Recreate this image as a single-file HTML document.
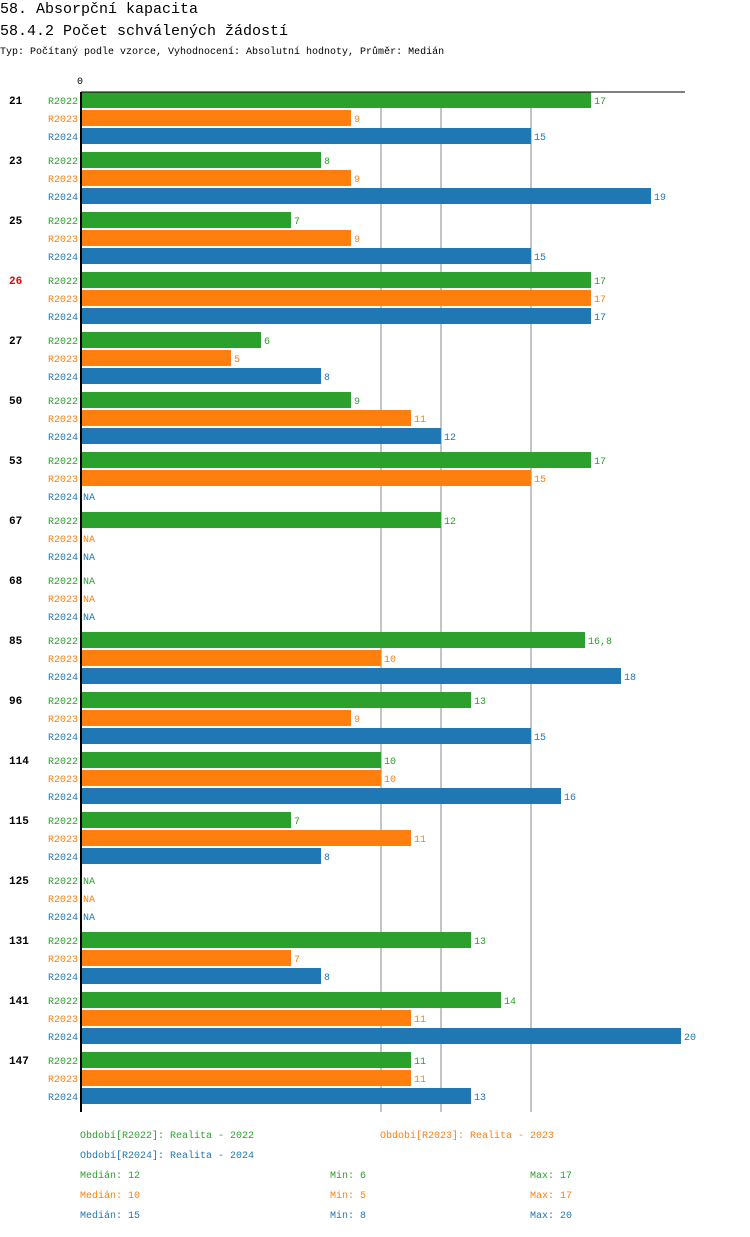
<!DOCTYPE html>
<html><head><meta charset="utf-8"><style>
body{margin:0;background:#fff;width:750px;height:1232px;overflow:hidden;font-family:"Liberation Mono","DejaVu Sans Mono",monospace}
svg text{font-family:"Liberation Mono","DejaVu Sans Mono",monospace}
</style></head><body>
<svg id="c" width="750" height="1232" xmlns="http://www.w3.org/2000/svg">
<text x="0" y="13" font-size="15">58. Absorpční kapacita</text>
<text x="0" y="35" font-size="15">58.4.2 Počet schválených žádostí</text>
<text x="0" y="54" font-size="10">Typ: Počítaný podle vzorce, Vyhodnocení: Absolutní hodnoty, Průměr: Medián</text>
<g id="grid"></g><g id="bars"></g>
</svg>
<script>
const categories=["21","23","25","26","27","50","53","67","68","85","96","114","115","125","131","141","147"];
const highlighted=["26"];
const seriesNames=["R2022","R2023","R2024"];
const r2022=[17,8,7,17,6,9,17,12,null,16.8,13,10,7,null,13,14,11];
const r2023=[9,9,9,17,5,11,15,null,null,10,9,10,11,null,7,11,11];
const r2024=[15,19,15,17,8,12,null,null,null,18,15,16,8,null,8,20,13];
const gridValues=[10,12,15];
const colors=["#2ca02c","#ff7f0e","#1f77b4"];
const svg=document.getElementById('c'),NS="http://www.w3.org/2000/svg";
const X0=81,UNIT=30,TOP=92,PITCH=60;
const xs=v=>X0+v*UNIT;
function mk(t,a,p){const e=document.createElementNS(NS,t);for(const k in a)e.setAttribute(k,a[k]);(p||svg).appendChild(e);return e;}
const grid=document.getElementById('grid'),bars=document.getElementById('bars');
const bottom=TOP+categories.length*PITCH;
gridValues.forEach(v=>{const l=mk('line',{x1:xs(v),x2:xs(v),y1:TOP,y2:bottom,stroke:'#888','stroke-width':1},grid);

});
let t=mk('text',{x:X0-4,y:TOP-8,'font-size':10});t.textContent='0';


let a=mk('line',{x1:X0,x2:685,y1:TOP,y2:TOP,stroke:'#000','stroke-width':1});


const series=[r2022,r2023,r2024];
categories.forEach((c,i)=>{
 const gy=TOP+i*PITCH;
 const g=mk('text',{x:9,y:gy+12,'font-size':11,'font-weight':'bold',fill:highlighted.includes(c)?'#e00':'#000'});g.textContent=c;
 
 
 series.forEach((s,j)=>{
  const y=gy+j*18,v=s[i];
  const lb=mk('text',{x:78,y:y+12,'font-size':10,fill:colors[j],'text-anchor':'end'});lb.textContent=seriesNames[j];
  
  
  let end=X0+2;
  if(v!=null){const r=mk('rect',{x:X0,y:y,width:xs(v)-X0,height:16,fill:colors[j]},bars);
   
   end=xs(v)+3;}
  const vl=mk('text',{x:end,y:y+12,'font-size':10,fill:colors[j]});vl.textContent=v==null?'NA':String(v).replace('.',',');
  
  
 });
});
a=mk('line',{x1:X0,x2:X0,y1:TOP,y2:bottom,stroke:'#000','stroke-width':2});


const legend=[[80,1138,0,"Období[R2022]: Realita - 2022"],[380,1138,1,"Období[R2023]: Realita - 2023"],[80,1158,2,"Období[R2024]: Realita - 2024"]];
legend.forEach(([x,y,j,s])=>{const e=mk('text',{x:x,y:y,'font-size':10,fill:colors[j]});e.textContent=s;
 
 });
const stats=[[12,6,17],[10,5,17],[15,8,20]];
stats.forEach((st,j)=>{const y=1178+j*20;
 [["Medián: ",80],["Min: ",330],["Max: ",530]].forEach(([p,x],k)=>{const e=mk('text',{x:x,y:y,'font-size':10,fill:colors[j]});e.textContent=p+st[k];
 
 });
});
</script>
</body></html>
